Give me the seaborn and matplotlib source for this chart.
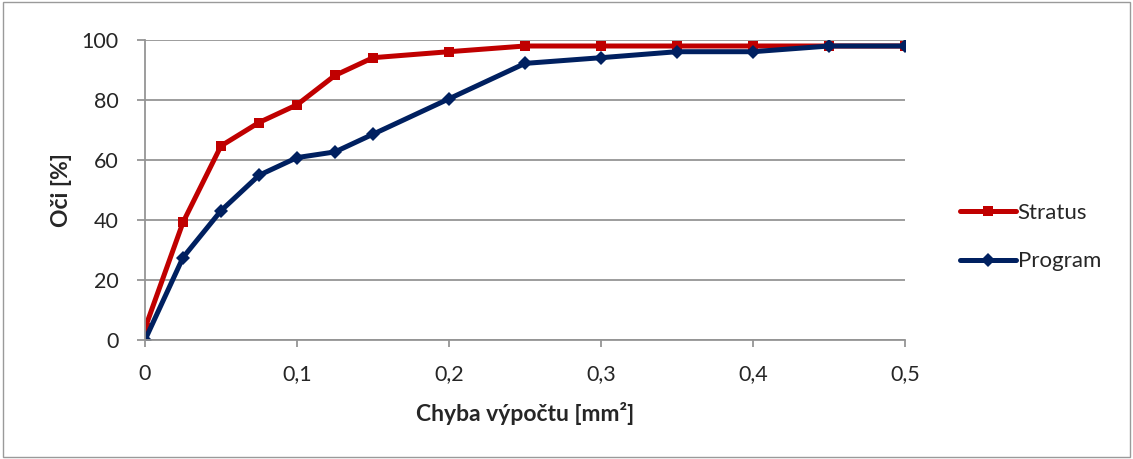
import pandas as pd
import seaborn as sns
from matplotlib import pyplot as plt
from matplotlib.lines import Line2D
from matplotlib.patches import Rectangle
from matplotlib.ticker import FuncFormatter, MultipleLocator

# Hodnoty
chyba = [0, 0.025, 0.05, 0.075, 0.1, 0.125, 0.15, 0.2, 0.25, 0.3, 0.35, 0.4, 0.45, 0.5]
stratus = [3.9, 39.2, 64.7, 72.5, 78.4, 88.2, 94.1, 96.1, 98.0, 98.0, 98.0, 98.0, 98.0, 98.0]
program = [0, 27.5, 43.1, 54.9, 60.8, 62.7, 68.6, 80.4, 92.2, 94.1, 96.1, 96.1, 98.0, 98.0]

df = pd.concat([
    pd.DataFrame({'chyba': chyba, 'oci': stratus, 'serie': 'Stratus'}),
    pd.DataFrame({'chyba': chyba, 'oci': program, 'serie': 'Program'}),
])

sns.set_style('white')
plt.rcParams['font.family'] = ['Lato', 'DejaVu Sans']

fig = plt.figure(figsize=(11.33, 4.59), dpi=100)
ax = fig.add_axes([145/1133, 1 - 340/459, 760/1133, 300/459])

sns.lineplot(data=df, x='chyba', y='oci', hue='serie', style='serie',
             palette={'Stratus': '#C00000', 'Program': '#002060'},
             markers={'Stratus': 's', 'Program': 'D'}, dashes=False,
             linewidth=3.6, markersize=6.5, markeredgewidth=0, ax=ax, legend=False)

# kosočtverce o něco větší než čtverce
for ln in ax.lines:
    if ln.get_marker() == 'D':
        ln.set_markersize(7.5)

ax.set_xlim(0, 0.5)
ax.set_ylim(0, 100)
ax.xaxis.set_major_locator(MultipleLocator(0.1))
ax.yaxis.set_major_locator(MultipleLocator(20))
ax.xaxis.set_major_formatter(FuncFormatter(lambda v, p: f'{v:g}'.replace('.', ',')))
ax.yaxis.grid(True, color='#959595', linewidth=1.3)
ax.set_axisbelow(True)
for s in ['top', 'right']:
    ax.spines[s].set_visible(False)
for s in ['left', 'bottom']:
    ax.spines[s].set_color('#959595')
    ax.spines[s].set_linewidth(1.3)
ax.tick_params(axis='both', which='major', width=1.3, color='#959595',
               labelsize=15.5, direction='out', left=True, bottom=True)
ax.tick_params(axis='x', length=5, pad=12)
ax.tick_params(axis='y', length=6, pad=13)

ax.set_xlabel('Chyba výpočtu [mm²]', fontsize=16.5, fontweight='bold', labelpad=13)
ax.set_ylabel('Oči [%]', fontsize=16.5, fontweight='bold', labelpad=7)

# legenda vpravo jako v Excelu
handles = [
    Line2D([], [], color='#C00000', lw=3.6, marker='s', ms=6.5, mew=0),
    Line2D([], [], color='#002060', lw=3.6, marker='D', ms=7.5, mew=0),
]
fig.legend(handles, ['Stratus', 'Program'], loc='center left',
           bbox_to_anchor=(960/1133, 1 - 237/459), frameon=False, fontsize=16,
           handlelength=2.5, handletextpad=0.1, labelspacing=1.3,
           borderpad=0, borderaxespad=0)

fig.patches.append(Rectangle((0.003, 0.005), 0.994, 0.99, transform=fig.transFigure,
                             fill=False, edgecolor='#9a9a9a', linewidth=1))

fig.savefig('out.png', dpi=100)
